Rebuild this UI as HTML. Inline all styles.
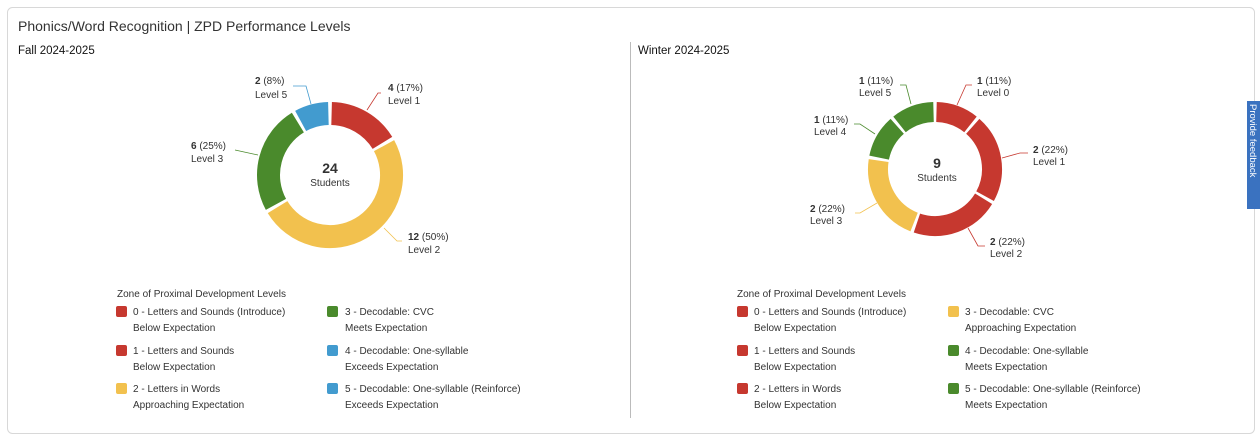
<!DOCTYPE html>
<html><head><meta charset="utf-8"><style>
html,body{margin:0;padding:0;background:#fff;width:1260px;height:442px;overflow:hidden}
svg{display:block;font-family:"Liberation Sans",sans-serif}
</style></head><body>
<svg width="1260" height="442" viewBox="0 0 1260 442">
<rect x="7.5" y="7.5" width="1247" height="426" rx="5" fill="#fff" stroke="#d8d8d8"/>
<text x="18" y="31" font-size="14" fill="#333">Phonics/Word Recognition | ZPD Performance Levels</text>
<text x="18" y="54" font-size="11.5" fill="#111">Fall 2024-2025</text>
<text x="638" y="54" font-size="11.5" fill="#111">Winter 2024-2025</text>
<line x1="630.5" y1="42" x2="630.5" y2="418" stroke="#bbb"/>

<g fill="none" stroke-width="23">
<path d="M331.61 113.52 A61.5 61.5 0 0 1 382.44 142.87" stroke="#c6382f"/>
<path d="M384.05 145.65 A61.5 61.5 0 0 1 277.56 207.13" stroke="#f2c14e"/>
<path d="M275.95 204.35 A61.5 61.5 0 0 1 297.87 122.57" stroke="#4a8a2c"/>
<path d="M300.65 120.95 A61.5 61.5 0 0 1 328.39 113.52" stroke="#429bcf"/>
</g>
<text x="330" y="173" font-size="14" font-weight="bold" text-anchor="middle" fill="#333">24</text>
<text x="330" y="186" font-size="10" text-anchor="middle" fill="#333">Students</text>
<g font-size="10" fill="#333">
<text x="255" y="84"><tspan font-weight="bold">2</tspan> (8%)</text><text x="255" y="98">Level 5</text>
<text x="388" y="91"><tspan font-weight="bold">4</tspan> (17%)</text><text x="388" y="104">Level 1</text>
<text x="191" y="149"><tspan font-weight="bold">6</tspan> (25%)</text><text x="191" y="162">Level 3</text>
<text x="408" y="240"><tspan font-weight="bold">12</tspan> (50%)</text><text x="408" y="253">Level 2</text>
</g>
<g fill="none" stroke-width="0.8">
<polyline points="293,86 306,86 311,104" stroke="#429bcf"/>
<polyline points="381,93 378,93 367,110" stroke="#c6382f"/>
<polyline points="235,150 258,155" stroke="#4a8a2c"/>
<polyline points="384,228 397,241 402,241" stroke="#f2c14e"/>
</g>

<g fill="none" stroke-width="20">
<path d="M936.49 112.02 A57 57 0 0 1 970.48 124.39" stroke="#c6382f"/>
<path d="M972.77 126.31 A57 57 0 0 1 985.09 196.20" stroke="#c6382f"/>
<path d="M983.60 198.78 A57 57 0 0 1 916.91 223.05" stroke="#c6382f"/>
<path d="M914.11 222.03 A57 57 0 0 1 878.63 160.58" stroke="#f2c14e"/>
<path d="M879.15 157.63 A57 57 0 0 1 897.23 126.31" stroke="#4a8a2c"/>
<path d="M899.52 124.39 A57 57 0 0 1 933.51 112.02" stroke="#4a8a2c"/>
</g>
<text x="937" y="168" font-size="14" font-weight="bold" text-anchor="middle" fill="#333">9</text>
<text x="937" y="181" font-size="10" text-anchor="middle" fill="#333">Students</text>
<g font-size="10" fill="#333">
<text x="977" y="84"><tspan font-weight="bold">1</tspan> (11%)</text><text x="977" y="96">Level 0</text>
<text x="859" y="84"><tspan font-weight="bold">1</tspan> (11%)</text><text x="859" y="96">Level 5</text>
<text x="814" y="123"><tspan font-weight="bold">1</tspan> (11%)</text><text x="814" y="135">Level 4</text>
<text x="1033" y="153"><tspan font-weight="bold">2</tspan> (22%)</text><text x="1033" y="165">Level 1</text>
<text x="810" y="212"><tspan font-weight="bold">2</tspan> (22%)</text><text x="810" y="224">Level 3</text>
<text x="990" y="245"><tspan font-weight="bold">2</tspan> (22%)</text><text x="990" y="257">Level 2</text>
</g>
<g fill="none" stroke-width="0.8">
<polyline points="972,85 966,85 957,105" stroke="#c6382f"/>
<polyline points="900,85 906,85 911,104" stroke="#4a8a2c"/>
<polyline points="854,124 860,124 875,134" stroke="#4a8a2c"/>
<polyline points="1028,153 1020,153 1002,158" stroke="#c6382f"/>
<polyline points="855,213 860,213 877,203" stroke="#f2c14e"/>
<polyline points="985,246 978,246 968,228" stroke="#c6382f"/>
</g>

<g font-size="10" fill="#333">
<text x="117" y="297">Zone of Proximal Development Levels</text>
<rect x="116" y="306" width="11" height="11" rx="2" fill="#c6382f"/><text x="133" y="315">0 - Letters and Sounds (Introduce)</text><text x="133" y="331">Below Expectation</text>
<rect x="116" y="345" width="11" height="11" rx="2" fill="#c6382f"/><text x="133" y="354">1 - Letters and Sounds</text><text x="133" y="370">Below Expectation</text>
<rect x="116" y="383" width="11" height="11" rx="2" fill="#f2c14e"/><text x="133" y="392">2 - Letters in Words</text><text x="133" y="408">Approaching Expectation</text>
<rect x="327" y="306" width="11" height="11" rx="2" fill="#4a8a2c"/><text x="345" y="315">3 - Decodable: CVC</text><text x="345" y="331">Meets Expectation</text>
<rect x="327" y="345" width="11" height="11" rx="2" fill="#429bcf"/><text x="345" y="354">4 - Decodable: One-syllable</text><text x="345" y="370">Exceeds Expectation</text>
<rect x="327" y="383" width="11" height="11" rx="2" fill="#429bcf"/><text x="345" y="392">5 - Decodable: One-syllable (Reinforce)</text><text x="345" y="408">Exceeds Expectation</text>

<text x="737" y="297">Zone of Proximal Development Levels</text>
<rect x="737" y="306" width="11" height="11" rx="2" fill="#c6382f"/><text x="754" y="315">0 - Letters and Sounds (Introduce)</text><text x="754" y="331">Below Expectation</text>
<rect x="737" y="345" width="11" height="11" rx="2" fill="#c6382f"/><text x="754" y="354">1 - Letters and Sounds</text><text x="754" y="370">Below Expectation</text>
<rect x="737" y="383" width="11" height="11" rx="2" fill="#c6382f"/><text x="754" y="392">2 - Letters in Words</text><text x="754" y="408">Below Expectation</text>
<rect x="948" y="306" width="11" height="11" rx="2" fill="#f2c14e"/><text x="965" y="315">3 - Decodable: CVC</text><text x="965" y="331">Approaching Expectation</text>
<rect x="948" y="345" width="11" height="11" rx="2" fill="#4a8a2c"/><text x="965" y="354">4 - Decodable: One-syllable</text><text x="965" y="370">Meets Expectation</text>
<rect x="948" y="383" width="11" height="11" rx="2" fill="#4a8a2c"/><text x="965" y="392">5 - Decodable: One-syllable (Reinforce)</text><text x="965" y="408">Meets Expectation</text>
</g>

<rect x="1247" y="101" width="13" height="108" fill="#3a72c0"/>
<text transform="translate(1250,104) rotate(90)" font-size="9.5" fill="#fff">Provide feedback</text>
</svg>
</body></html>
